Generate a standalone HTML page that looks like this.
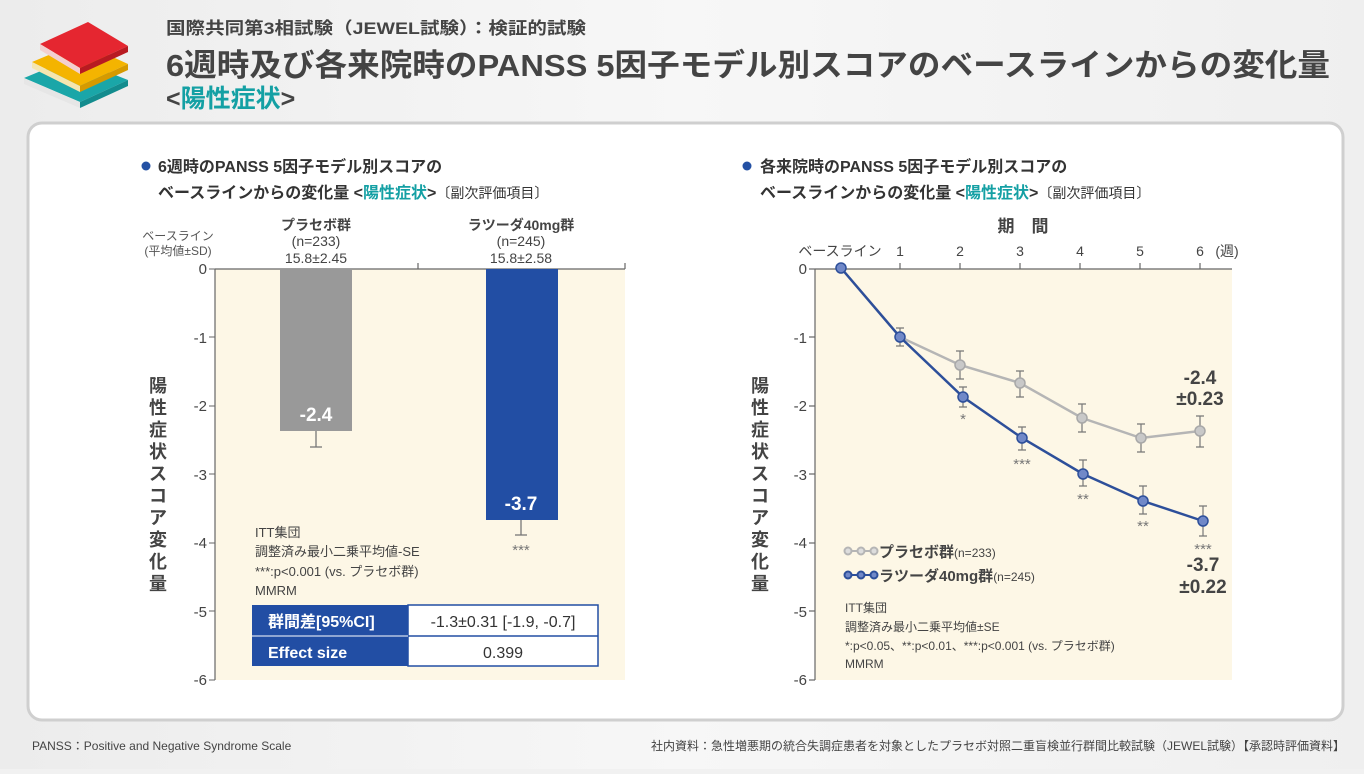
<!DOCTYPE html><html><head><meta charset="utf-8"><style>
body{margin:0;width:1364px;height:769px;overflow:hidden;background:#f1f1f1;font-family:"Liberation Sans","Noto Sans CJK JP",sans-serif}
svg text{font-family:"Liberation Sans","Noto Sans CJK JP",sans-serif}
</style></head><body>
<svg width="1364" height="769" xmlns="http://www.w3.org/2000/svg">
<defs><linearGradient id="bg" x1="0" x2="1"><stop offset="0" stop-color="#ececec"/><stop offset="0.5" stop-color="#f7f7f7"/><stop offset="1" stop-color="#efefef"/></linearGradient></defs>
<rect width="1364" height="769" fill="url(#bg)"/>
<!-- books icon -->
<polygon points="24,78 72,58 128,80 80,102" fill="#1aa6a8"/><polygon points="24,78 80,102 80,108 24,84" fill="#e6e6e6"/><polygon points="80,102 128,80 128,86 80,108" fill="#138c8e"/>
<polygon points="32,62 80,42 128,64 80,86" fill="#f4b400"/><polygon points="32,62 80,86 80,92 32,68" fill="#f5e6b0"/><polygon points="80,86 128,64 128,70 80,92" fill="#d69a00"/>
<polygon points="40,44 88,22 128,46 80,68" fill="#e52630"/><polygon points="40,44 80,68 80,74 40,50" fill="#f3d0d0"/><polygon points="80,68 128,46 128,52 80,74" fill="#b81a22"/>
<text x="166" y="34" font-size="17" font-weight="bold" fill="#444" textLength="420" lengthAdjust="spacingAndGlyphs">国際共同第3相試験（JEWEL試験）：検証的試験</text>
<text x="166" y="76" font-size="31" font-weight="bold" fill="#444" textLength="1164" lengthAdjust="spacingAndGlyphs">6週時及び各来院時のPANSS 5因子モデル別スコアのベースラインからの変化量</text>
<text x="166" y="107" font-size="25" font-weight="bold" fill="#444">&lt;<tspan fill="#14a0a4">陽性症状</tspan>&gt;</text>
<rect x="28" y="123" width="1315" height="597" rx="14" fill="#fff" stroke="#cfcfcf" stroke-width="3"/>
<!-- left chart -->
<circle cx="146" cy="166" r="4.5" fill="#2451a4"/>
<text x="158" y="172" font-size="16" font-weight="bold" fill="#333">6週時のPANSS 5因子モデル別スコアの</text>
<text x="158" y="198" font-size="16" font-weight="bold" fill="#333">ベースラインからの変化量 &lt;<tspan fill="#14a0a4">陽性症状</tspan>&gt;<tspan font-size="14" font-weight="normal">〔副次評価項目〕</tspan></text>
<rect x="215" y="269" width="410" height="411" fill="#fdf7e6"/>
<text x="178" y="240" font-size="12" fill="#555" text-anchor="middle">ベースライン</text>
<text x="178" y="255" font-size="12" fill="#555" text-anchor="middle">(平均値±SD)</text>
<g font-size="14" fill="#444" text-anchor="middle"><text x="316" y="230" font-weight="bold">プラセボ群</text><text x="316" y="246">(n=233)</text><text x="316" y="263">15.8±2.45</text>
<text x="521" y="230" font-weight="bold">ラツーダ40mg群</text><text x="521" y="246">(n=245)</text><text x="521" y="263">15.8±2.58</text></g>
<g stroke="#666" stroke-width="1.2"><line x1="215" y1="269" x2="625" y2="269"/><line x1="215" y1="269" x2="215" y2="680"/><line x1="418" y1="263" x2="418" y2="269"/><line x1="625" y1="263" x2="625" y2="269"/></g>
<g font-size="15" fill="#444" text-anchor="end">
<text x="207" y="274">0</text><text x="207" y="343">-1</text><text x="207" y="411">-2</text><text x="207" y="480">-3</text><text x="207" y="548">-4</text><text x="207" y="617">-5</text><text x="207" y="685">-6</text></g>
<g stroke="#666"><line x1="209" y1="269" x2="215" y2="269"/><line x1="209" y1="337" x2="215" y2="337"/><line x1="209" y1="406" x2="215" y2="406"/><line x1="209" y1="474" x2="215" y2="474"/><line x1="209" y1="543" x2="215" y2="543"/><line x1="209" y1="611" x2="215" y2="611"/><line x1="209" y1="680" x2="215" y2="680"/></g>
<rect x="280" y="269" width="72" height="162" fill="#999"/>
<rect x="486" y="269" width="72" height="251" fill="#224ea4"/>
<g stroke="#777" stroke-width="1.3"><line x1="316" y1="431" x2="316" y2="447"/><line x1="310" y1="447" x2="322" y2="447"/><line x1="521" y1="520" x2="521" y2="535"/><line x1="515" y1="535" x2="527" y2="535"/></g>
<text x="316" y="421" font-size="19" font-weight="bold" fill="#fff" text-anchor="middle">-2.4</text>
<text x="521" y="510" font-size="19" font-weight="bold" fill="#fff" text-anchor="middle">-3.7</text>
<text x="521" y="555" font-size="15" fill="#777" text-anchor="middle">***</text>
<g font-size="13" fill="#444"><text x="255" y="537">ITT集団</text><text x="255" y="556">調整済み最小二乗平均値-SE</text><text x="255" y="576">***:p&lt;0.001 (vs. プラセボ群)</text><text x="255" y="595">MMRM</text></g>
<rect x="252" y="605" width="156" height="61" fill="#224ea4"/>
<rect x="408" y="605" width="190" height="61" fill="#fff" stroke="#224ea4" stroke-width="1.5"/>
<line x1="252" y1="636" x2="598" y2="636" stroke="#224ea4" stroke-width="1.5"/>
<line x1="252" y1="636" x2="408" y2="636" stroke="#fff" stroke-width="1"/>
<text x="268" y="627" font-size="16" font-weight="bold" fill="#fff">群間差[95%CI]</text>
<text x="268" y="658" font-size="16" font-weight="bold" fill="#fff">Effect size</text>
<text x="503" y="627" font-size="16" fill="#333" text-anchor="middle">-1.3±0.31 [-1.9, -0.7]</text>
<text x="503" y="658" font-size="16" fill="#333" text-anchor="middle">0.399</text>
<g font-size="18" font-weight="bold" fill="#444" text-anchor="middle"><text x="158" y="392">陽</text><text x="158" y="414">性</text><text x="158" y="436">症</text><text x="158" y="458">状</text><text x="158" y="480">ス</text><text x="158" y="502">コ</text><text x="158" y="524">ア</text><text x="158" y="546">変</text><text x="158" y="568">化</text><text x="158" y="590">量</text></g>
<!-- right chart -->
<circle cx="747" cy="166" r="4.5" fill="#2451a4"/>
<text x="760" y="172" font-size="16" font-weight="bold" fill="#333">各来院時のPANSS 5因子モデル別スコアの</text>
<text x="760" y="198" font-size="16" font-weight="bold" fill="#333">ベースラインからの変化量 &lt;<tspan fill="#14a0a4">陽性症状</tspan>&gt;<tspan font-size="14" font-weight="normal">〔副次評価項目〕</tspan></text>
<text x="1023" y="232" font-size="17" font-weight="bold" fill="#444" text-anchor="middle">期　間</text>
<rect x="815" y="269" width="417" height="411" fill="#fdf7e6"/>
<g font-size="14" fill="#444" text-anchor="middle"><text x="840" y="256">ベースライン</text><text x="900" y="256">1</text><text x="960" y="256">2</text><text x="1020" y="256">3</text><text x="1080" y="256">4</text><text x="1140" y="256">5</text><text x="1200" y="256">6</text><text x="1227" y="256">(週)</text></g>
<g stroke="#666" stroke-width="1.2"><line x1="815" y1="269" x2="1232" y2="269"/><line x1="815" y1="269" x2="815" y2="680"/>
<line x1="900" y1="263" x2="900" y2="269"/><line x1="960" y1="263" x2="960" y2="269"/><line x1="1020" y1="263" x2="1020" y2="269"/><line x1="1080" y1="263" x2="1080" y2="269"/><line x1="1140" y1="263" x2="1140" y2="269"/><line x1="1200" y1="263" x2="1200" y2="269"/>
<line x1="809" y1="269" x2="815" y2="269"/><line x1="809" y1="337" x2="815" y2="337"/><line x1="809" y1="406" x2="815" y2="406"/><line x1="809" y1="474" x2="815" y2="474"/><line x1="809" y1="543" x2="815" y2="543"/><line x1="809" y1="611" x2="815" y2="611"/><line x1="809" y1="680" x2="815" y2="680"/></g>
<g font-size="15" fill="#444" text-anchor="end">
<text x="807" y="274">0</text><text x="807" y="343">-1</text><text x="807" y="411">-2</text><text x="807" y="480">-3</text><text x="807" y="548">-4</text><text x="807" y="617">-5</text><text x="807" y="685">-6</text></g>
<g font-size="18" font-weight="bold" fill="#444" text-anchor="middle"><text x="760" y="392">陽</text><text x="760" y="414">性</text><text x="760" y="436">症</text><text x="760" y="458">状</text><text x="760" y="480">ス</text><text x="760" y="502">コ</text><text x="760" y="524">ア</text><text x="760" y="546">変</text><text x="760" y="568">化</text><text x="760" y="590">量</text></g>
<g stroke="#777" stroke-width="1.2">
<path d="M900,328V346M896,328h8M896,346h8"/>
<path d="M960,351V379M956,351h8M956,379h8M1020,371V397M1016,371h8M1016,397h8M1082,404V432M1078,404h8M1078,432h8M1141,424V452M1137,424h8M1137,452h8M1200,416V447M1196,416h8M1196,447h8"/>
<path d="M963,387V407M959,387h8M959,407h8M1022,427V450M1018,427h8M1018,450h8M1083,460V486M1079,460h8M1079,486h8M1143,486V514M1139,486h8M1139,514h8M1203,506V536M1199,506h8M1199,536h8"/>
</g>
<polyline points="841,268 900,337 960,365 1020,383 1082,418 1141,438 1200,431" fill="none" stroke="#b5b5b5" stroke-width="2.5"/>
<polyline points="841,268 900,337 963,397 1022,438 1083,474 1143,501 1203,521" fill="none" stroke="#2d4f9a" stroke-width="2.5"/>
<g fill="#c8c8c8" stroke="#a8a8a8" stroke-width="1.5"><circle cx="960" cy="365" r="5"/><circle cx="1020" cy="383" r="5"/><circle cx="1082" cy="418" r="5"/><circle cx="1141" cy="438" r="5"/><circle cx="1200" cy="431" r="5"/></g>
<g fill="#7088c8" stroke="#2d4f9a" stroke-width="1.5"><circle cx="841" cy="268" r="5"/><circle cx="900" cy="337" r="5"/><circle cx="963" cy="397" r="5"/><circle cx="1022" cy="438" r="5"/><circle cx="1083" cy="474" r="5"/><circle cx="1143" cy="501" r="5"/><circle cx="1203" cy="521" r="5"/></g>
<g font-size="15" fill="#777" text-anchor="middle"><text x="963" y="424">*</text><text x="1022" y="469">***</text><text x="1083" y="504">**</text><text x="1143" y="531">**</text><text x="1203" y="554">***</text></g>
<g font-size="19" font-weight="bold" fill="#444" text-anchor="middle"><text x="1200" y="384">-2.4</text><text x="1200" y="405">±0.23</text><text x="1203" y="571">-3.7</text><text x="1203" y="593">±0.22</text></g>
<g stroke="#b5b5b5" stroke-width="2" fill="#ddd"><line x1="846" y1="551" x2="876" y2="551"/><circle cx="848" cy="551" r="3.5"/><circle cx="861" cy="551" r="3.5"/><circle cx="874" cy="551" r="3.5"/></g>
<g stroke="#2d4f9a" stroke-width="2" fill="#7088c8"><line x1="846" y1="575" x2="876" y2="575"/><circle cx="848" cy="575" r="3.5"/><circle cx="861" cy="575" r="3.5"/><circle cx="874" cy="575" r="3.5"/></g>
<text x="879" y="557" font-size="15" font-weight="bold" fill="#444">プラセボ群<tspan font-size="12" font-weight="normal">(n=233)</tspan></text>
<text x="879" y="581" font-size="15" font-weight="bold" fill="#444">ラツーダ40mg群<tspan font-size="12" font-weight="normal">(n=245)</tspan></text>
<g font-size="12" fill="#444"><text x="845" y="612">ITT集団</text><text x="845" y="631">調整済み最小二乗平均値±SE</text><text x="845" y="650">*:p&lt;0.05、**:p&lt;0.01、***:p&lt;0.001 (vs. プラセボ群)</text><text x="845" y="668">MMRM</text></g>
<text x="32" y="750" font-size="12" fill="#444">PANSS：Positive and Negative Syndrome Scale</text>
<text x="1345" y="750" font-size="12" fill="#444" text-anchor="end">社内資料：急性増悪期の統合失調症患者を対象としたプラセボ対照二重盲検並行群間比較試験（JEWEL試験）【承認時評価資料】</text>
</svg></body></html>
